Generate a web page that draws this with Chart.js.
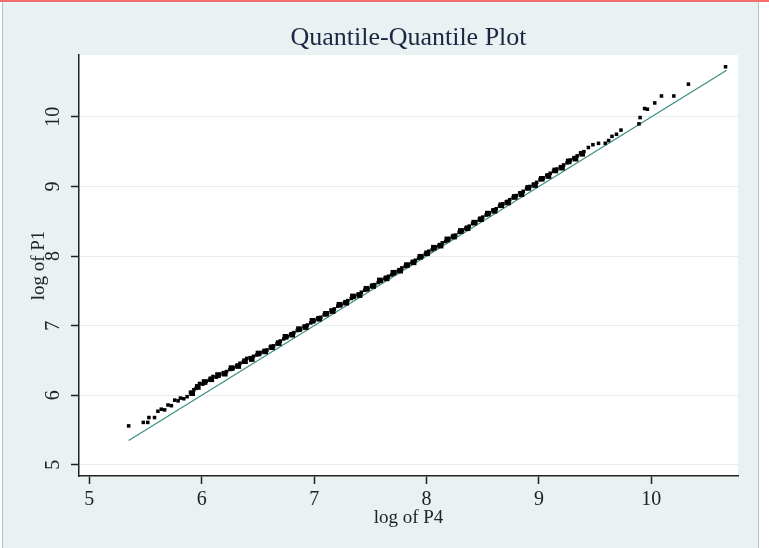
<!DOCTYPE html>
<html>
<head>
<meta charset="utf-8">
<script src="https://cdn.jsdelivr.net/npm/chart.js@4.4.1/dist/chart.umd.min.js"></script>
<style>
  html, body { margin: 0; padding: 0; background: #ffffff; }
  #wrap { position: relative; width: 769px; height: 548px; overflow: hidden; }
  #topline { position: absolute; left: 0; top: 0; width: 769px; height: 2px; background: #f26d6d; }
  #panel { position: absolute; left: 2px; top: 2px; width: 755px; height: 546px; background: #e9f1f3;
           border-left: 1px solid #b9c0c3; border-right: 1px solid #b9c0c3; }
  #chart { position: absolute; left: 0; top: 0; }
</style>
</head>
<body>
<div id="wrap">
  <div id="topline"></div>
  <div id="panel"></div>
  <canvas id="chart" width="769" height="548"></canvas>
</div>
<script>
// Texts
const chartTitle = "Quantile-Quantile Plot";
const xTitle = "log of P4";
const yTitle = "log of P1";

// Tick values
const xTicks = [5, 6, 7, 8, 9, 10];
const yTicks = [5, 6, 7, 8, 9, 10];

// Quantiles of log P4 (x) against log P1 (y)
const p4Quantiles = [
  5.35, 5.48, 5.52, 5.53, 5.58, 5.61, 5.64, 5.67, 5.70, 5.73, 5.76, 5.79, 5.81, 5.84, 5.87, 5.90,
  5.93, 5.95, 5.98, 6.01, 6.04, 6.07, 6.10, 6.13, 6.16, 6.19, 6.22, 6.25, 6.28, 6.31, 6.34, 6.37,
  6.40, 6.43, 6.46, 6.49, 6.52, 6.55, 6.58, 6.61, 6.64, 6.67, 6.70, 6.73, 6.76, 6.79, 6.82, 6.85,
  6.88, 6.91, 6.94, 6.97, 7.00, 7.03, 7.06, 7.09, 7.12, 7.15, 7.18, 7.21, 7.24, 7.27, 7.30, 7.33,
  7.36, 7.39, 7.42, 7.45, 7.48, 7.51, 7.54, 7.57, 7.60, 7.63, 7.66, 7.69, 7.72, 7.75, 7.78, 7.81,
  7.84, 7.87, 7.90, 7.93, 7.96, 7.99, 8.02, 8.05, 8.08, 8.11, 8.14, 8.17, 8.20, 8.23, 8.26, 8.29,
  8.32, 8.35, 8.38, 8.41, 8.44, 8.47, 8.50, 8.53, 8.56, 8.59, 8.62, 8.65, 8.68, 8.71, 8.74, 8.77,
  8.80, 8.83, 8.86, 8.89, 8.92, 8.95, 8.98, 9.01, 9.04, 9.07, 9.10, 9.13, 9.16, 9.19, 9.22, 9.25,
  9.28, 9.31, 9.34, 9.37, 9.40, 9.44, 9.48, 9.53, 9.59, 9.62, 9.65, 9.69, 9.73, 9.89, 9.90, 9.94,
  9.965, 10.03, 10.09, 10.20, 10.33, 10.66
];
const p1Quantiles = [
  5.56, 5.61, 5.61, 5.68, 5.68, 5.77, 5.80, 5.79, 5.86, 5.85, 5.93, 5.92, 5.96, 5.95, 5.98, 6.04,
  6.08, 6.10, 6.17, 6.16, 6.20, 6.22, 6.27, 6.26, 6.30, 6.32, 6.34, 6.37, 6.39, 6.42, 6.46, 6.48,
  6.53, 6.54, 6.56, 6.58, 6.61, 6.63, 6.65, 6.69, 6.71, 6.74, 6.78, 6.81, 6.84, 6.87, 6.90, 6.93,
  6.95, 6.99, 7.01, 7.04, 7.07, 7.10, 7.12, 7.16, 7.18, 7.22, 7.24, 7.28, 7.30, 7.33, 7.36, 7.39,
  7.42, 7.45, 7.48, 7.51, 7.53, 7.57, 7.59, 7.62, 7.65, 7.68, 7.71, 7.73, 7.77, 7.79, 7.83, 7.85,
  7.88, 7.91, 7.94, 7.97, 8.00, 8.03, 8.07, 8.09, 8.13, 8.15, 8.19, 8.21, 8.25, 8.28, 8.30, 8.34,
  8.37, 8.40, 8.43, 8.47, 8.49, 8.53, 8.56, 8.59, 8.62, 8.66, 8.68, 8.72, 8.75, 8.78, 8.81, 8.84,
  8.87, 8.91, 8.93, 8.97, 9.00, 9.03, 9.06, 9.10, 9.12, 9.16, 9.19, 9.22, 9.25, 9.28, 9.31, 9.34,
  9.38, 9.41, 9.44, 9.48, 9.50, 9.56, 9.60, 9.62, 9.62, 9.66, 9.72, 9.75, 9.81, 9.90, 9.99, 10.12,
  10.11, 10.20, 10.30, 10.30, 10.47, 10.72
];

// Extra quantiles in the dense middle of the distribution
const p4Dense = [
  5.915, 5.965, 6.025, 6.085, 6.145, 6.205, 6.265, 6.325, 6.385, 6.445, 6.505, 6.565, 6.625, 6.685,
  6.745, 6.805, 6.865, 6.925, 6.985, 7.045, 7.105, 7.165, 7.225, 7.285, 7.345, 7.405, 7.465, 7.525,
  7.585, 7.645, 7.705, 7.765, 7.825, 7.885, 7.945, 8.005, 8.065, 8.125, 8.185, 8.245, 8.305, 8.365,
  8.425, 8.485, 8.545, 8.605, 8.665, 8.725, 8.785, 8.845, 8.905, 8.965, 9.025, 9.085, 9.145, 9.205,
  9.265, 9.325, 9.385
];
const p1Dense = [
  6.03, 6.12, 6.19, 6.23, 6.29, 6.31, 6.39, 6.42, 6.49, 6.52, 6.60, 6.63, 6.69, 6.75,
  6.84, 6.87, 6.95, 6.98, 7.07, 7.10, 7.17, 7.21, 7.30, 7.33, 7.42, 7.44, 7.53, 7.57,
  7.65, 7.68, 7.76, 7.79, 7.87, 7.91, 7.99, 8.04, 8.12, 8.15, 8.24, 8.28, 8.36, 8.40,
  8.48, 8.53, 8.61, 8.65, 8.73, 8.77, 8.85, 8.89, 8.98, 9.02, 9.11, 9.15, 9.23, 9.27,
  9.36, 9.40, 9.47
];

// 45 degree reference line
const refLineX = [5.35, 10.67];
const refLineY = [5.35, 10.67];

const serif = '"Liberation Serif", "DejaVu Serif", serif';

const points = p4Quantiles.map((x, i) => ({ x: x, y: p1Quantiles[i] }));
const densePoints = p4Dense.map((x, i) => ({ x: x, y: p1Dense[i] }));
const refLine = refLineX.map((x, i) => ({ x: x, y: refLineY[i] }));

// white plot region + centred title
const plotBackground = {
  id: "plotBackground",
  beforeDraw(chart) {
    const { ctx, chartArea: a } = chart;
    ctx.save();
    ctx.fillStyle = "#ffffff";
    ctx.fillRect(a.left, a.top, a.right - a.left, a.bottom - a.top);
    ctx.font = "26px " + serif;
    ctx.fillStyle = "#1c2541";
    ctx.textAlign = "center";
    ctx.textBaseline = "middle";
    ctx.fillText(chartTitle, (a.left + a.right) / 2, 38);
    ctx.restore();
  }
};

new Chart(document.getElementById("chart"), {
  type: "scatter",
  data: {
    datasets: [
      {
        label: "quantiles",
        data: points,
        pointRadius: 2.5,
        pointStyle: "rect",
        backgroundColor: "#000000",
        borderWidth: 0,
        order: 1
      },
      {
        label: "dense",
        data: densePoints,
        pointRadius: 4,
        pointStyle: "rect",
        backgroundColor: "#000000",
        borderWidth: 0,
        order: 1
      },
      {
        label: "reference",
        data: refLine,
        showLine: true,
        borderColor: "#3f8f84",
        borderWidth: 1.3,
        pointRadius: 0,
        order: 2
      }
    ]
  },
  options: {
    responsive: false,
    animation: false,
    layout: { padding: { top: 55, right: 31, left: 10, bottom: 0 } },
    plugins: {
      legend: { display: false },
      tooltip: { enabled: false }
    },
    scales: {
      x: {
        type: "linear",
        min: 4.908,
        max: 10.771,
        afterBuildTicks: s => { s.ticks = xTicks.map(v => ({ value: v })); },
        afterFit: s => { s.height = 72; },
        grid: { drawOnChartArea: false, tickLength: 8, tickColor: "#222222", tickWidth: 1.5 },
        border: { color: "#222222", width: 1.5 },
        ticks: { font: { family: serif, size: 20 }, color: "#222222", maxRotation: 0, padding: 4 },
        title: {
          display: true, text: xTitle, color: "#222222",
          font: { family: serif, size: 19 }, padding: { top: 0, bottom: 19 }
        }
      },
      y: {
        type: "linear",
        min: 4.84,
        max: 10.889,
        afterBuildTicks: s => { s.ticks = yTicks.map(v => ({ value: v })); },
        afterFit: s => { s.width = 69; },
        grid: { color: "#e4eef1", lineWidth: 1, tickLength: 8, tickColor: "#222222", tickWidth: 1.5 },
        border: { color: "#222222", width: 1.5 },
        ticks: {
          font: { family: serif, size: 20 }, color: "#222222",
          minRotation: 90, maxRotation: 90, crossAlign: "center", padding: 7
        },
        title: {
          display: true, text: yTitle, color: "#222222",
          font: { family: serif, size: 19 }, padding: { top: 18, bottom: 0 }
        }
      }
    }
  },
  plugins: [plotBackground]
});
</script>
</body>
</html>
